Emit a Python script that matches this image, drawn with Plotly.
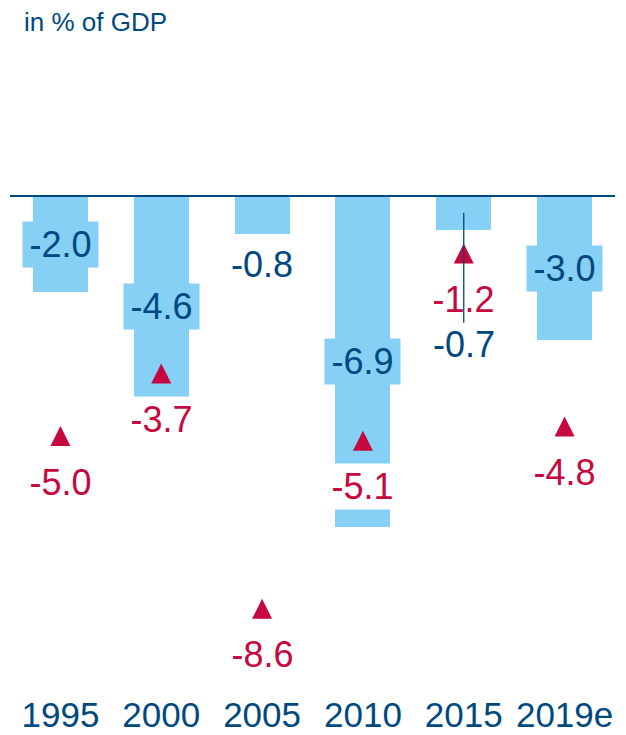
import plotly.graph_objects as go

# Budget balance and estimate, in % of GDP
years = ["1995", "2000", "2005", "2010", "2015", "2019e"]
balance = [-2.0, -4.6, -0.8, -6.9, -0.7, -3.0]      # bars
comparison = [-5.0, -3.7, -8.6, -5.1, -1.2, -4.8]   # triangles

NAVY = "#00497f"
SKY = "#86cff5"
CRIMSON = "#c5093f"
FONT = "Liberation Sans, Arial, sans-serif"

W, H = 626, 735
TOP, BOTTOM = 150, 44          # plot margins in px
ZERO_PX = 196                  # pixel row of the zero line
PX_PER_UNIT = 48
TRI = 20                       # triangle marker size in px
plot_h = H - TOP - BOTTOM
y_max = (ZERO_PX - TOP) / PX_PER_UNIT
y_min = y_max - plot_h / PX_PER_UNIT
# the arrow-up symbol hangs below its tip; a twin axis lifts it by half its height
lift = (TRI / 2) / PX_PER_UNIT

idx = list(range(len(years)))

fig = go.Figure()

fig.add_trace(go.Bar(
    x=idx, y=balance, width=0.545,
    marker=dict(color=SKY, line=dict(width=0)),
    hoverinfo="skip",
))

fig.add_trace(go.Scatter(
    x=idx, y=comparison, mode="markers", yaxis="y2",
    marker=dict(symbol="arrow-up", size=TRI, color=CRIMSON,
                line=dict(width=0)),
    hoverinfo="skip",
))

annotations = []
# red value labels under the triangles, on white boxes
for i, v in zip(idx, comparison):
    annotations.append(dict(
        x=i, y=v, yshift=-46, text=f"{v:.1f}", showarrow=False,
        font=dict(family=FONT, size=36, color=CRIMSON),
        bgcolor="white", width=75, height=45, borderpad=0,
    ))

# bar value labels
for i, v in zip(idx, balance):
    label = f"{v:.1f}"
    if v <= -1.5:
        annotations.append(dict(
            x=i, y=v / 2, text=label, showarrow=False,
            font=dict(family=FONT, size=36, color=NAVY),
            bgcolor=SKY, width=75, height=45, borderpad=0,
        ))
    elif years[i] == "2015":
        annotations.append(dict(
            x=i, y=v / 2, text=label, showarrow=True,
            arrowhead=0, arrowwidth=1.3, arrowcolor=NAVY,
            ax=0, ay=132,
            font=dict(family=FONT, size=36, color=NAVY),
        ))
    else:
        annotations.append(dict(
            x=i, y=v, yshift=-30, text=label, showarrow=False,
            font=dict(family=FONT, size=36, color=NAVY),
        ))

fig.update_layout(
    width=W, height=H,
    margin=dict(l=10, r=11, t=TOP, b=BOTTOM, autoexpand=False),
    paper_bgcolor="white", plot_bgcolor="white",
    showlegend=False,
    bargap=0,
    title=dict(text="in % of GDP", x=24 / W, xanchor="left",
               y=1 - 22 / H, yanchor="middle",
               font=dict(family=FONT, size=26, color=NAVY)),
    xaxis=dict(range=[-0.5, 5.5], showgrid=False, automargin=False,
               tickmode="array", tickvals=idx, ticktext=years,
               showline=False, zeroline=False, ticks="",
               tickfont=dict(family=FONT, size=35, color=NAVY)),
    yaxis=dict(range=[y_min, y_max], showgrid=False, showline=False,
               automargin=False,
               zeroline=False, showticklabels=False, ticks=""),
    yaxis2=dict(range=[y_min - lift, y_max - lift], overlaying="y",
                visible=False),
    annotations=annotations,
    shapes=[dict(type="line", xref="paper", x0=0, x1=1, yref="y", y0=0, y1=0,
                 line=dict(color=NAVY, width=2), layer="above")],
)

fig.write_html("out.html")
